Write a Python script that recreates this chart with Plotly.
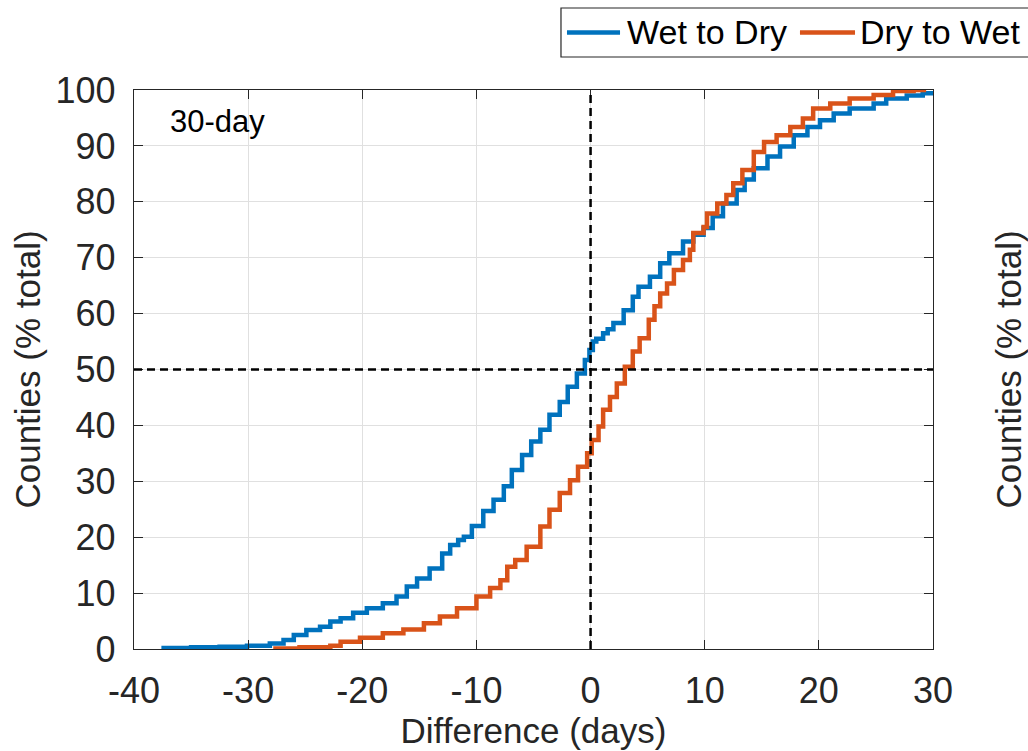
import plotly.graph_objects as go

# Wet to Dry: cumulative % of counties vs difference (days)
wd_x = [-37.6, -35.0, -32.5, -30.1, -28.1, -26.9, -26.0, -24.9, -23.7, -22.8, -21.9, -20.8, -19.6,
        -18.2, -17.0, -16.1, -15.2, -14.1, -13.0, -12.3, -11.6, -11.1, -10.4, -9.4, -8.5, -7.6, -6.9,
        -6.0, -5.2, -4.4, -3.6, -2.7, -2.0, -1.2, -0.5, -0.1, 0.2, 0.5, 1.1, 1.5, 2.0, 2.9, 3.7, 4.2,
        5.2, 6.1, 6.9, 8.1, 9.0, 9.9, 10.7, 11.6, 12.8, 13.5, 14.3, 15.5, 16.6, 17.8, 19.0, 20.1,
        21.3, 22.7, 24.8, 25.9, 27.7, 29.1, 30.0]
wd_y = [0.2, 0.3, 0.4, 0.6, 1.0, 1.6, 2.5, 3.4, 4.0, 4.9, 5.5, 6.5, 7.3,
        8.2, 9.4, 11.2, 12.6, 14.4, 17.1, 18.6, 19.5, 20.1, 22.0, 24.7, 26.7, 29.1, 32.0,
        34.7, 37.1, 39.2, 41.9, 44.2, 46.9, 49.3, 51.7, 53.5, 55.0, 55.5, 56.5, 57.2, 58.3, 60.6, 63.0, 64.8,
        66.6, 69.0, 70.8, 72.9, 74.1, 75.3, 77.4, 79.7, 82.1, 84.0, 86.0, 88.1, 89.9, 91.9, 93.4, 94.6,
        95.8, 96.7, 97.6, 98.5, 99.0, 99.4, 99.8]

# Dry to Wet
dw_x = [-27.8, -25.5, -22.8, -21.9, -20.2, -18.2, -16.4, -14.6, -13.2, -11.7, -10.0, -8.8, -7.9,
        -7.3, -6.6, -5.6, -4.4, -3.6, -2.7, -1.8, -1.1, -0.3, 0.1, 0.7, 1.1, 1.7, 2.3, 3.0, 3.7, 4.3,
        5.1, 5.6, 6.1, 6.7, 7.3, 8.1, 8.7, 9.0, 9.9, 10.2, 11.1, 11.9, 12.5, 13.3, 14.3, 15.2, 16.3,
        17.5, 18.6, 19.5, 21.0, 22.7, 24.8, 26.5, 28.3, 29.4]
dw_y = [0.1, 0.3, 0.6, 1.3, 2.0, 2.8, 3.5, 4.6, 5.8, 7.3, 9.4, 10.9, 12.3,
        14.7, 15.9, 18.3, 21.9, 24.9, 27.9, 30.2, 32.6, 35.0, 37.4, 39.8, 42.8, 45.1, 47.5, 50.5, 53.2, 55.6,
        58.9, 61.3, 63.6, 65.4, 67.8, 69.6, 71.4, 74.4, 75.5, 77.9, 79.7, 81.2, 83.3, 85.7, 88.9, 90.7, 91.9,
        93.4, 94.9, 96.7, 97.6, 98.5, 99.1, 99.8, 100.0, 100.0]

series_names = ["Wet to Dry", "Dry to Wet"]
x_ticks = [-40, -30, -20, -10, 0, 10, 20, 30]
y_ticks = [0, 10, 20, 30, 40, 50, 60, 70, 80, 90, 100]

BLUE = "#0072BD"
ORANGE = "#D95319"
AX = "#262626"
FONT = "Liberation Sans, Arial, sans-serif"

fig = go.Figure()
fig.add_trace(go.Scatter(x=wd_x, y=wd_y, mode="lines", line=dict(color=BLUE, width=4.5, shape="hv"),
                         name=series_names[0], showlegend=False))
fig.add_trace(go.Scatter(x=dw_x, y=dw_y, mode="lines", line=dict(color=ORANGE, width=4.5, shape="hv"),
                         name=series_names[1], showlegend=False))

# reference lines
fig.add_shape(type="line", xref="x", yref="paper", x0=0, x1=0, y0=0, y1=1,
              line=dict(color="black", width=2.5, dash="8px,5px"))
fig.add_shape(type="line", xref="paper", yref="y", x0=0, x1=1, y0=50, y1=50,
              line=dict(color="black", width=2.5, dash="8px,5px"))

fig.add_annotation(x=-37.0, y=94.3, xref="x", yref="y", text="30-day", showarrow=False,
                   xanchor="left", yanchor="middle", font=dict(size=31, color="black", family=FONT))

# partially visible y-axis title of the neighbouring panel
fig.add_annotation(x=1.0951, y=0.5, xref="paper", yref="paper", text="Counties (% total)",
                   showarrow=False, textangle=-90, xanchor="center", yanchor="middle",
                   font=dict(size=35, color=AX, family=FONT))

# legend box (extends beyond the right edge, as in the reference)
fig.add_shape(type="rect", xref="paper", yref="paper", x0=0.5344, x1=1.125, y0=1.059, y1=1.1467,
              line=dict(color=AX, width=1.2), fillcolor="white", layer="above")
fig.add_shape(type="line", xref="paper", yref="paper", x0=0.5419, x1=0.6083, y0=1.1029, y1=1.1029,
              line=dict(color=BLUE, width=4.5))
fig.add_shape(type="line", xref="paper", yref="paper", x0=0.8335, x1=0.9024, y0=1.1029, y1=1.1029,
              line=dict(color=ORANGE, width=4.5))
fig.add_annotation(x=0.6145, y=1.1029, xref="paper", yref="paper", text=series_names[0],
                   showarrow=False, xanchor="left", yanchor="middle",
                   font=dict(size=34, color="black", family=FONT))
fig.add_annotation(x=0.9061, y=1.1029, xref="paper", yref="paper", text=series_names[1],
                   showarrow=False, xanchor="left", yanchor="middle",
                   font=dict(size=34, color="black", family=FONT))

axis_common = dict(showline=True, linecolor=AX, linewidth=1.3, mirror="allticks", ticks="inside",
                   ticklen=9, tickwidth=1.3, tickcolor=AX, showgrid=True, gridcolor="#E0E0E0",
                   gridwidth=1, zeroline=False, tickfont=dict(size=36, color=AX, family=FONT))

fig.update_xaxes(range=[-40, 30], tickvals=x_ticks, ticktext=[str(v) for v in x_ticks],
                 ticklabelstandoff=10,
                 title=dict(text="Difference (days)", font=dict(size=35, color=AX, family=FONT), standoff=4),
                 **axis_common)
fig.update_yaxes(range=[0, 100], tickvals=y_ticks, ticktext=[str(v) for v in y_ticks],
                 ticklabelstandoff=10,
                 title=dict(text="Counties (% total)", font=dict(size=35, color=AX, family=FONT), standoff=4),
                 **axis_common)

fig.update_layout(
    width=1028, height=751,
    margin=dict(l=134, r=95, t=90, b=102),
    plot_bgcolor="white", paper_bgcolor="white",
    showlegend=False,
    font=dict(family=FONT),
)

fig.write_html("out.html")
